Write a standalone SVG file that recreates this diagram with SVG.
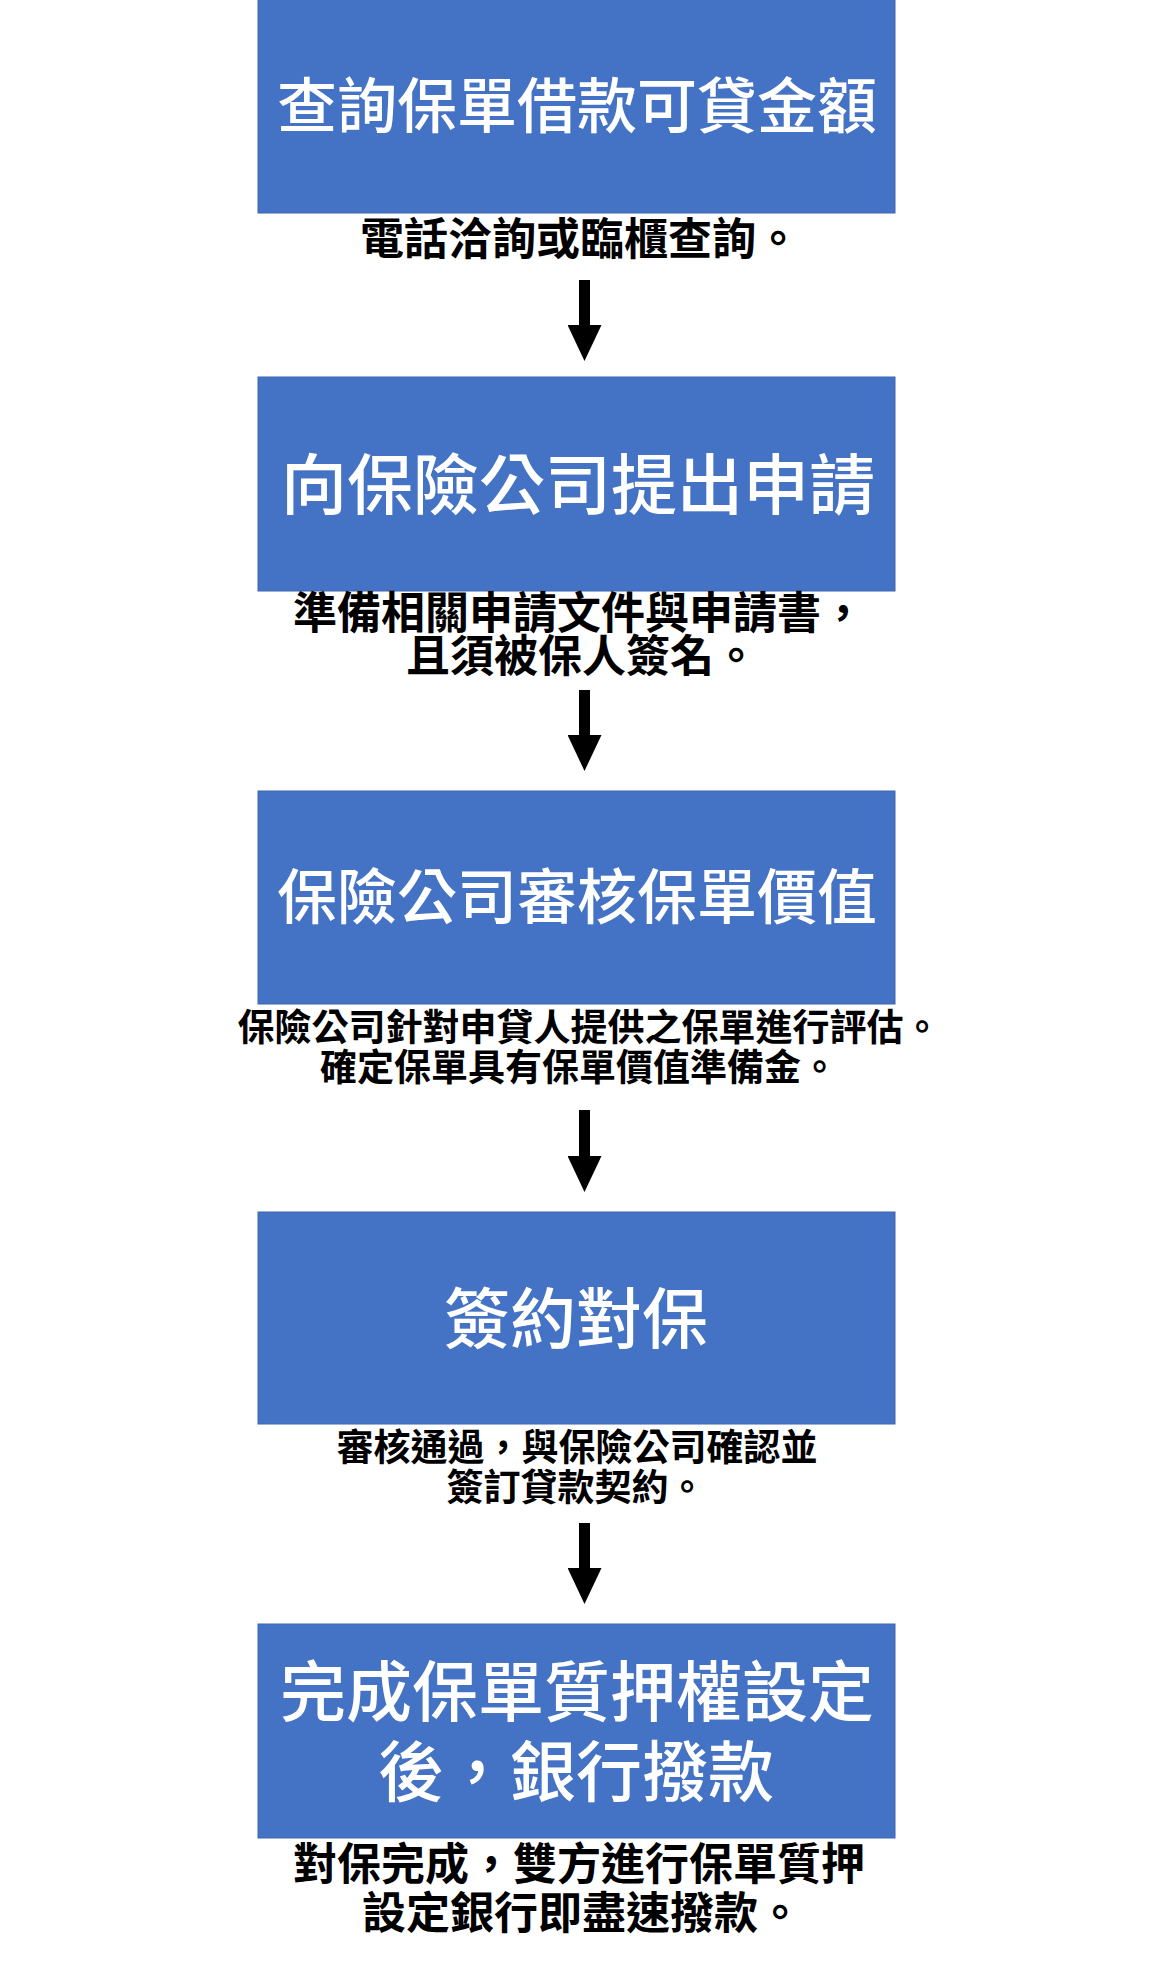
<svg xmlns="http://www.w3.org/2000/svg" width="1159" height="1969" viewBox="0 0 1159 1969">
  <style>
    .box { fill: #4472C4; stroke: #3F67B0; stroke-width: 1; }
    .title { fill: #FFFFFF; font-family: "Noto Sans CJK TC", "Noto Sans CJK SC", sans-serif; font-weight: 500; text-anchor: middle; }
    .desc { fill: #000000; font-family: "Noto Sans CJK TC", "Noto Sans CJK SC", sans-serif; font-weight: 700; text-anchor: middle; }
    .conn { stroke: #000000; stroke-width: 11; fill: none; }
  </style>
  <defs>
    <marker id="head" markerUnits="userSpaceOnUse" markerWidth="36" markerHeight="34" viewBox="0 0 36 34" refX="0" refY="17" orient="auto">
      <path d="M0,0 L36,17 L0,34 Z" fill="#000000"/>
    </marker>
  </defs>
  <rect width="1159" height="1969" fill="#FFFFFF"/>

  <g id="node1">
    <rect class="box" x="258" y="-1" width="637" height="214"/>
    <text class="title" x="577" y="128" font-size="60">查詢保單借款可貸金額</text>
    <text class="desc" x="580" y="255" font-size="44">電話洽詢或臨櫃查詢。</text>
  </g>

  <g id="node2">
    <rect class="box" x="258" y="377" width="637" height="214"/>
    <text class="title" x="578" y="509" font-size="66">向保險公司提出申請</text>
    <text class="desc" font-size="44"><tspan x="579" y="629">準備相關申請文件與申請書，</tspan><tspan x="582" y="672">且須被保人簽名。</tspan></text>
  </g>

  <g id="node3">
    <rect class="box" x="258" y="791" width="637" height="213"/>
    <text class="title" x="577" y="919" font-size="60">保險公司審核保單價值</text>
    <text class="desc" font-size="37"><tspan x="589" y="1041">保險公司針對申貸人提供之保單進行評估。</tspan><tspan x="579" y="1081">確定保單具有保單價值準備金。</tspan></text>
  </g>

  <g id="node4">
    <rect class="box" x="258" y="1212" width="637" height="212"/>
    <text class="title" x="576" y="1343" font-size="66">簽約對保</text>
    <text class="desc" font-size="37"><tspan x="577" y="1461">審核通過，與保險公司確認並</tspan><tspan x="576" y="1501">簽訂貸款契約。</tspan></text>
  </g>

  <g id="node5">
    <rect class="box" x="258" y="1624" width="637" height="214"/>
    <text class="title" font-size="66"><tspan x="577" y="1716">完成保單質押權設定</tspan><tspan x="576" y="1796">後，銀行撥款</tspan></text>
    <text class="desc" font-size="44"><tspan x="579" y="1880">對保完成，雙方進行保單質押</tspan><tspan x="582" y="1929">設定銀行即盡速撥款。</tspan></text>
  </g>

  <g id="connectors">
    <line class="conn" x1="584.5" y1="280" x2="584.5" y2="325" marker-end="url(#head)"/>
    <line class="conn" x1="584.5" y1="690" x2="584.5" y2="735" marker-end="url(#head)"/>
    <line class="conn" x1="584.5" y1="1110" x2="584.5" y2="1156" marker-end="url(#head)"/>
    <line class="conn" x1="584.5" y1="1523" x2="584.5" y2="1568" marker-end="url(#head)"/>
  </g>
</svg>
